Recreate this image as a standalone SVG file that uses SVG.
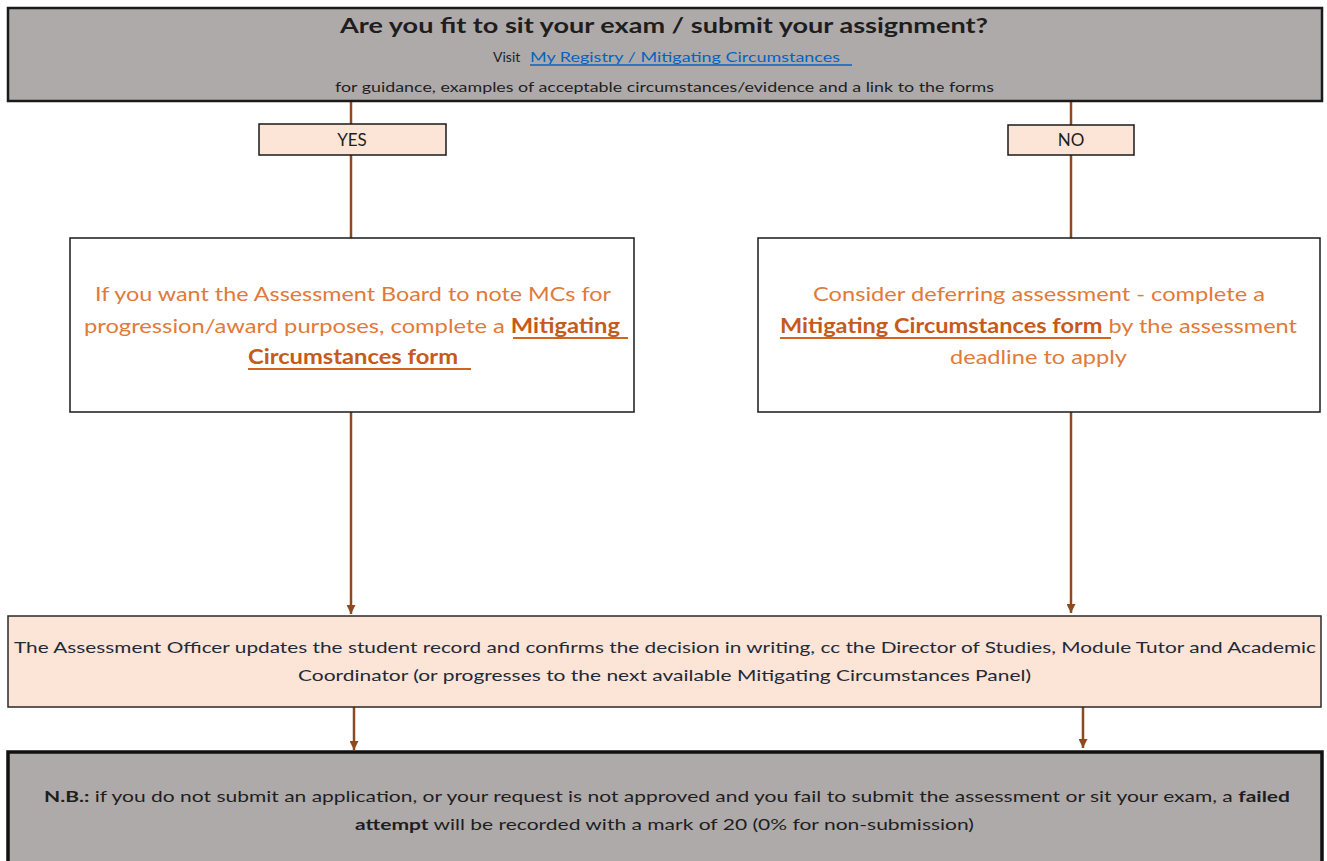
<svg xmlns="http://www.w3.org/2000/svg" width="1327" height="861" viewBox="0 0 1327 861">
<style>
  text { font-family: Lato, "Open Sans", "Liberation Sans", sans-serif; }
  .dark { fill: #1e1e1e; }
  .orange { fill: #e07a3a; font-size: 20px; }
  .og { fill: #c65a1a; font-weight: bold; }
  .b { font-weight: bold; }
  .conn { stroke: #8e4a1f; stroke-width: 2.5; fill: none; }
  .ul { stroke: #d0651f; stroke-width: 1.8; }
</style>
<defs>
  <marker id="arr" viewBox="0 0 10 10" refX="10" refY="5" markerWidth="10" markerHeight="9" markerUnits="userSpaceOnUse" orient="auto">
    <path d="M0,0 L10,5 L0,10 z" fill="#8e4a1f"/>
  </marker>
</defs>
<rect width="1327" height="861" fill="#ffffff"/>

<g id="connectors">
  <path class="conn" d="M351 101 V124"/>
  <path class="conn" d="M351 155 V238"/>
  <path class="conn" d="M351 412 V614" marker-end="url(#arr)"/>
  <path class="conn" d="M354 707 V750" marker-end="url(#arr)"/>
  <path class="conn" d="M1071 101 V125"/>
  <path class="conn" d="M1071 155 V238"/>
  <path class="conn" d="M1071 412 V613" marker-end="url(#arr)"/>
  <path class="conn" d="M1083 707 V748" marker-end="url(#arr)"/>
</g>

<g id="question">
  <rect x="8" y="8" width="1314" height="93" fill="#aeaaaa" stroke="#1a1a1a" stroke-width="2.5"/>
  <text x="340" y="33" font-size="21" font-weight="bold" class="dark" textLength="648" lengthAdjust="spacingAndGlyphs">Are you fit to sit your exam / submit your assignment?</text>
  <text x="493" y="62" font-size="14" class="dark">Visit</text>
  <text x="530" y="62" font-size="14" fill="#0563c1" textLength="310" lengthAdjust="spacingAndGlyphs">My Registry / Mitigating Circumstances</text>
  <line x1="530" y1="65" x2="852" y2="65" stroke="#0563c1" stroke-width="1.3"/>
  <text x="335" y="92" font-size="14" class="dark" textLength="659" lengthAdjust="spacingAndGlyphs">for guidance, examples of acceptable circumstances/evidence and a link to the forms</text>
</g>

<g id="yes">
  <rect x="259" y="124" width="187" height="31" fill="#fce4d6" stroke="#1a1a1a" stroke-width="1.5"/>
  <text x="352" y="146" font-size="17" text-anchor="middle" class="dark">YES</text>
</g>

<g id="no">
  <rect x="1008" y="125" width="126" height="30" fill="#fce4d6" stroke="#1a1a1a" stroke-width="1.5"/>
  <text x="1071" y="146" font-size="17" text-anchor="middle" class="dark">NO</text>
</g>

<g id="yes-action">
  <rect x="70" y="238" width="564" height="174" fill="#ffffff" stroke="#1a1a1a" stroke-width="1.5"/>
  <text x="95" y="301" class="orange" textLength="516" lengthAdjust="spacingAndGlyphs">If you want the Assessment Board to note MCs for</text>
  <text x="84" y="333" class="orange" textLength="536" lengthAdjust="spacingAndGlyphs">progression/award purposes, complete a <tspan class="og">Mitigating</tspan></text>
  <line class="ul" x1="513" y1="338" x2="628" y2="338"/>
  <text x="248" y="364" class="orange" textLength="210" lengthAdjust="spacingAndGlyphs"><tspan class="og">Circumstances form</tspan></text>
  <line class="ul" x1="248" y1="369" x2="471" y2="369"/>
</g>

<g id="no-action">
  <rect x="758" y="238" width="562" height="174" fill="#ffffff" stroke="#1a1a1a" stroke-width="1.5"/>
  <text x="813" y="301" class="orange" textLength="452" lengthAdjust="spacingAndGlyphs">Consider deferring assessment - complete a</text>
  <text x="780" y="333" class="orange" textLength="517" lengthAdjust="spacingAndGlyphs"><tspan class="og">Mitigating Circumstances form</tspan> by the assessment</text>
  <line class="ul" x1="780" y1="338" x2="1111" y2="338"/>
  <text x="950" y="364" class="orange" textLength="177" lengthAdjust="spacingAndGlyphs">deadline to apply</text>
</g>

<g id="officer">
  <rect x="8" y="616" width="1313" height="91" fill="#fce4d6" stroke="#2a2a2a" stroke-width="1.5"/>
  <text x="14" y="653" font-size="16" fill="#222a38" textLength="1302" lengthAdjust="spacingAndGlyphs">The Assessment Officer updates the student record and confirms the decision in writing, cc the Director of Studies, Module Tutor and Academic</text>
  <text x="298" y="681" font-size="16" fill="#222a38" textLength="733" lengthAdjust="spacingAndGlyphs">Coordinator (or progresses to the next available Mitigating Circumstances Panel)</text>
</g>

<g id="note">
  <rect x="8" y="752" width="1314" height="115" fill="#aeaaaa" stroke="#111111" stroke-width="3.5"/>
  <text x="44" y="802" font-size="16" class="dark" textLength="1246" lengthAdjust="spacingAndGlyphs"><tspan class="b">N.B.:</tspan> if you do not submit an application, or your request is not approved and you fail to submit the assessment or sit your exam, a <tspan class="b">failed</tspan></text>
  <text x="355" y="830" font-size="16" class="dark" textLength="619" lengthAdjust="spacingAndGlyphs"><tspan class="b">attempt</tspan> will be recorded with a mark of 20 (0% for non-submission)</text>
</g>
</svg>
